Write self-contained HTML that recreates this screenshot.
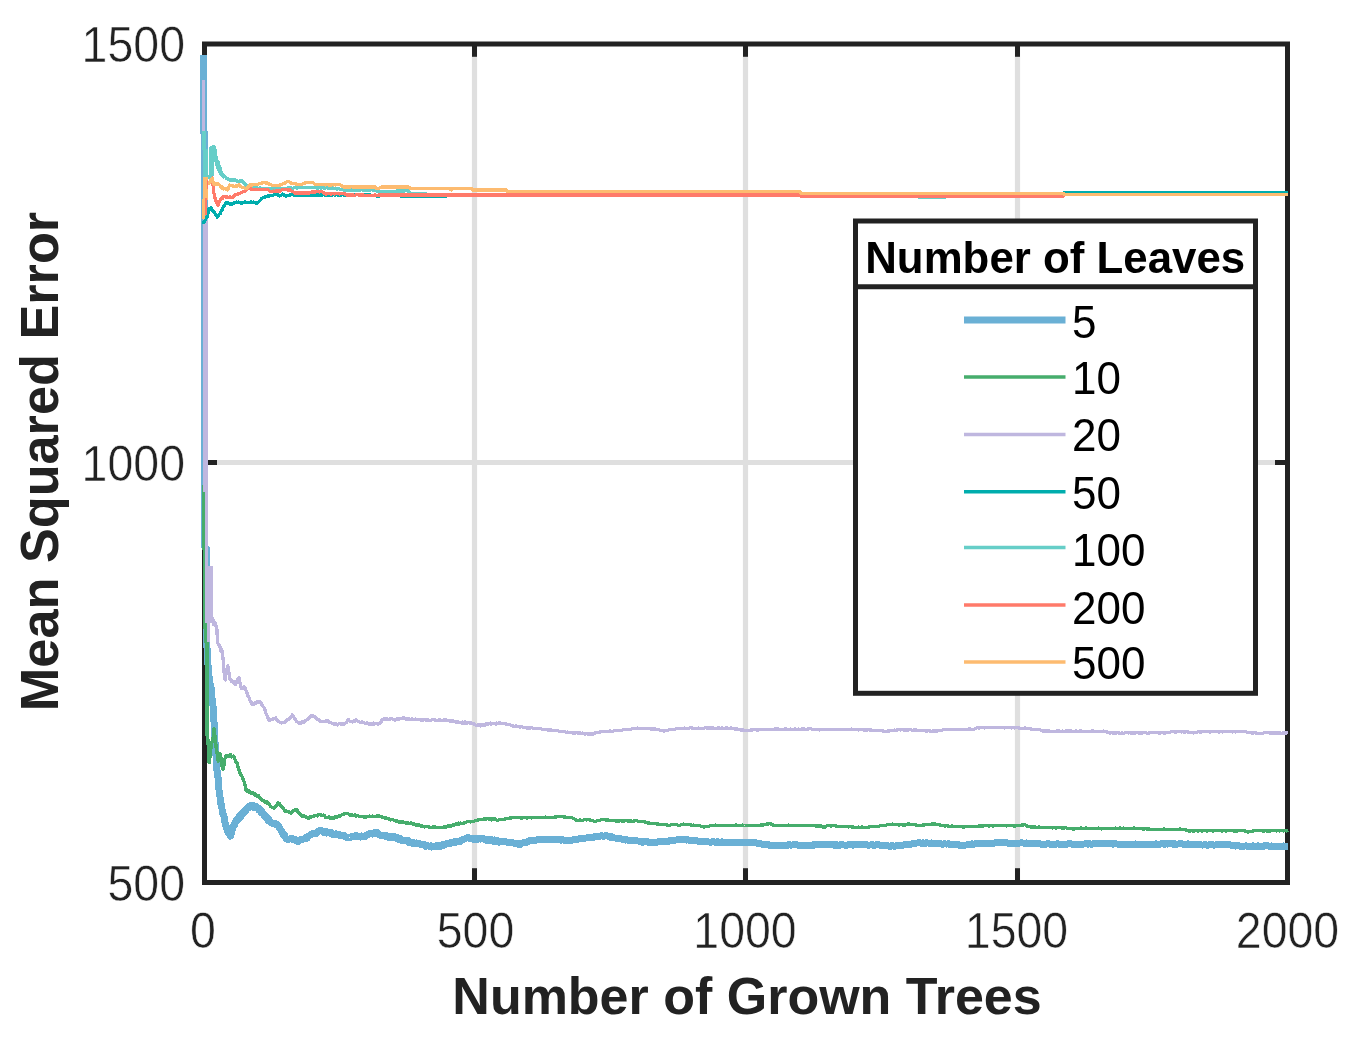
<!DOCTYPE html>
<html lang="en"><head><meta charset="utf-8"><title>Mean Squared Error vs Number of Grown Trees</title>
<style>html,body{margin:0;padding:0;background:#fff;overflow:hidden}svg{display:block}text{font-family:"Liberation Sans",sans-serif}</style></head><body>
<svg width="1363" height="1041" viewBox="0 0 1363 1041">
<rect width="1363" height="1041" fill="#fff"/>
<g stroke="#DFDFDF" stroke-width="5.2">
<line x1="474.5" y1="44" x2="474.5" y2="882.5"/>
<line x1="745.5" y1="44" x2="745.5" y2="882.5"/>
<line x1="1017.5" y1="44" x2="1017.5" y2="882.5"/>
<line x1="204.5" y1="462.5" x2="1287.5" y2="462.5"/>
</g>
<g stroke="#222222" stroke-width="5" fill="none">
<rect x="204.5" y="44" width="1083.0" height="838.5"/>
<line x1="474.5" y1="44" x2="474.5" y2="56.8"/>
<line x1="474.5" y1="882.5" x2="474.5" y2="868.2"/>
<line x1="745.5" y1="44" x2="745.5" y2="56.8"/>
<line x1="745.5" y1="882.5" x2="745.5" y2="868.2"/>
<line x1="1017.5" y1="44" x2="1017.5" y2="56.8"/>
<line x1="1017.5" y1="882.5" x2="1017.5" y2="868.2"/>
<line x1="204.5" y1="462.5" x2="217" y2="462.5"/>
<line x1="1287.5" y1="462.5" x2="1275" y2="462.5"/>
</g>
<g shape-rendering="crispEdges">
<path d="M203.4 55.0 L203.4 132.0 L204.9 133.0 L204.9 548.0 L206.5 549.0 L206.5 640.0 L207.5 655.0 L208.5 675.0 L209.1 677.0 L209.7 679.1 L210.3 687.1 L210.9 685.8 L211.5 694.6 L212.1 698.5 L212.7 701.4 L213.3 710.1 L213.9 719.0 L214.5 734.2 L215.1 743.2 L215.7 750.7 L216.3 760.1 L216.9 769.9 L217.5 772.7 L218.1 778.6 L218.7 786.3 L219.3 793.4 L219.9 796.5 L220.5 799.4 L221.1 806.1 L221.7 804.9 L222.3 812.6 L222.9 813.4 L223.5 815.1 L224.1 817.2 L224.7 820.3 L225.3 824.8 L225.9 824.1 L226.5 828.0 L227.1 830.4 L227.7 830.9 L228.3 833.2 L228.9 832.9 L229.5 834.5 L230.1 836.1 L230.7 835.9 L231.3 833.0 L231.9 830.5 L232.5 829.5 L233.1 827.1 L233.7 825.3 L234.3 825.7 L234.9 824.1 L235.5 821.4 L236.1 821.1 L236.7 819.7 L237.3 819.9 L237.9 819.0 L238.5 817.2 L239.1 818.7 L239.7 815.7 L240.3 816.1 L240.9 816.6 L241.5 814.4 L242.1 814.8 L242.7 812.8 L243.3 813.7 L243.9 813.2 L244.5 811.9 L245.1 811.8 L245.7 809.6 L246.3 809.8 L246.9 808.7 L247.5 807.9 L248.1 806.9 L248.7 807.7 L249.3 807.8 L249.9 806.6 L250.5 806.9 L251.1 805.4 L251.7 806.8 L252.3 806.6 L252.9 807.2 L253.5 806.7 L254.1 805.9 L254.7 806.5 L255.3 807.5 L255.9 806.4 L256.5 807.7 L257.1 807.4 L257.7 807.7 L258.3 807.9 L258.9 810.0 L259.5 809.2 L260.1 810.1 L260.7 811.0 L261.3 812.6 L261.9 811.5 L262.5 812.9 L263.1 813.7 L263.7 815.0 L264.3 815.4 L264.9 816.2 L265.5 815.8 L266.1 816.8 L266.7 817.5 L267.3 819.3 L267.9 820.2 L268.5 819.3 L269.1 820.1 L269.7 821.0 L270.3 821.7 L271.4 822.8 L272.5 823.4 L273.6 823.2 L274.7 823.1 L275.8 824.3 L276.9 824.6 L278.0 825.4 L279.1 827.3 L280.2 829.0 L281.3 830.8 L282.4 833.1 L283.5 834.8 L284.6 835.1 L285.7 838.1 L286.8 839.1 L287.9 839.4 L289.0 839.3 L290.1 838.6 L291.2 838.7 L292.3 838.2 L293.4 839.7 L294.5 839.3 L295.6 840.0 L296.7 841.0 L297.8 841.3 L298.9 841.1 L300.0 840.2 L301.1 839.6 L302.2 839.5 L303.3 839.0 L304.4 839.0 L305.5 837.8 L306.6 838.6 L307.7 837.4 L308.8 835.8 L309.9 835.3 L311.0 834.7 L312.1 834.0 L313.2 833.1 L314.3 834.0 L315.4 833.9 L316.5 832.5 L317.6 832.2 L318.7 831.1 L319.8 830.7 L320.9 830.8 L322.0 830.8 L323.1 832.1 L324.2 831.1 L325.3 831.1 L326.4 833.0 L327.5 832.5 L328.6 832.1 L329.7 833.0 L330.8 832.3 L331.9 833.4 L333.0 834.5 L334.1 834.5 L335.2 834.4 L336.3 833.8 L337.4 834.2 L338.5 834.1 L339.6 835.4 L340.7 835.2 L341.8 835.9 L342.9 835.3 L344.0 835.3 L345.1 836.6 L346.2 837.1 L347.3 837.1 L348.4 837.2 L349.5 837.5 L350.6 837.4 L351.7 836.4 L352.8 836.8 L353.9 836.5 L355.0 835.8 L356.1 835.7 L357.2 836.1 L358.3 836.0 L359.4 836.7 L360.5 837.1 L361.6 836.1 L362.7 836.9 L363.8 837.0 L364.9 836.8 L366.0 835.4 L367.1 834.8 L368.2 834.4 L369.3 833.9 L370.4 833.6 L371.5 833.9 L372.6 834.1 L373.7 833.6 L374.8 832.5 L375.9 833.1 L377.0 833.8 L378.1 833.0 L379.2 834.5 L380.3 835.4 L381.4 835.6 L382.5 836.0 L383.6 835.6 L384.7 835.3 L385.8 836.5 L386.9 835.9 L388.0 836.9 L389.1 837.4 L390.2 836.5 L391.3 836.7 L392.4 837.9 L393.5 837.7 L394.6 836.8 L395.7 837.1 L396.8 837.5 L397.9 839.2 L399.0 839.4 L400.1 838.6 L401.2 840.2 L402.3 840.8 L403.4 840.5 L404.5 840.2 L405.6 840.9 L406.7 840.4 L407.8 840.5 L408.9 842.4 L410.0 842.1 L411.1 842.2 L412.2 843.2 L413.3 842.6 L414.4 843.6 L415.5 843.8 L416.6 843.0 L417.7 843.3 L418.8 843.6 L419.9 843.8 L421.0 844.7 L422.1 844.4 L423.2 844.9 L424.3 844.7 L425.4 846.3 L426.5 845.4 L427.6 845.7 L428.7 846.0 L429.8 846.7 L430.9 845.9 L432.0 847.0 L433.1 846.3 L434.2 846.5 L435.3 846.6 L436.4 845.8 L437.5 846.6 L438.6 845.8 L439.7 845.2 L440.8 846.3 L441.9 844.8 L443.0 845.1 L444.1 845.2 L445.2 844.5 L446.3 843.8 L447.4 843.8 L448.5 843.6 L449.6 843.8 L450.7 842.3 L451.8 842.9 L452.9 842.1 L454.0 841.9 L455.1 842.6 L456.2 841.8 L457.3 841.7 L458.4 841.8 L459.5 841.9 L460.6 840.6 L461.7 840.4 L462.8 839.7 L463.9 839.2 L465.0 839.0 L466.1 838.1 L467.2 837.7 L468.3 837.6 L469.4 838.6 L470.5 838.4 L471.6 838.9 L472.7 839.2 L473.8 838.1 L474.9 838.8 L476.0 839.6 L477.1 839.5 L478.2 838.4 L479.3 838.4 L480.4 839.1 L481.5 838.5 L482.6 838.9 L483.7 838.7 L484.8 839.9 L485.9 840.2 L487.0 840.5 L488.1 839.2 L489.2 840.3 L490.3 840.3 L491.4 839.5 L492.5 841.0 L493.6 841.3 L494.7 840.1 L495.8 841.6 L496.9 840.7 L498.0 841.0 L499.1 842.1 L500.2 841.7 L501.3 841.2 L502.4 841.6 L503.5 841.8 L504.6 841.8 L505.7 841.8 L506.8 842.1 L507.9 842.6 L509.0 842.1 L510.1 842.7 L511.2 842.8 L512.3 842.5 L513.4 843.0 L514.5 843.4 L515.6 843.4 L516.7 843.1 L517.8 844.2 L518.9 844.1 L520.0 844.5 L521.7 843.1 L523.4 842.7 L525.1 842.0 L526.8 842.2 L528.5 841.2 L530.2 840.6 L531.9 840.6 L533.6 840.9 L535.3 840.5 L537.0 839.7 L538.7 839.3 L540.4 839.9 L542.1 839.6 L543.8 839.7 L545.5 839.1 L547.2 839.1 L548.9 839.7 L550.6 839.4 L552.3 839.1 L554.0 839.9 L555.7 839.6 L557.4 839.8 L559.1 839.2 L560.8 840.1 L562.5 839.5 L564.2 840.4 L565.9 840.1 L567.6 840.1 L569.3 840.5 L571.0 840.8 L572.7 839.9 L574.4 839.5 L576.1 839.7 L577.8 839.1 L579.5 838.8 L581.2 838.6 L582.9 838.2 L584.6 838.2 L586.3 838.0 L588.0 837.8 L589.7 838.0 L591.4 837.3 L593.1 837.3 L594.8 836.7 L596.5 836.7 L598.2 836.2 L599.9 836.2 L601.6 835.8 L603.3 836.3 L605.0 835.9 L606.7 835.6 L608.4 836.3 L610.1 837.2 L611.8 836.8 L613.5 837.9 L615.2 838.0 L616.9 838.3 L618.6 838.9 L620.3 838.7 L622.0 839.1 L623.7 839.6 L625.4 840.1 L627.1 839.8 L628.8 840.5 L630.5 840.6 L632.2 840.8 L633.9 840.8 L635.6 840.9 L637.3 840.9 L639.0 841.2 L640.7 841.3 L642.4 842.2 L644.1 841.8 L645.8 841.8 L647.5 841.8 L649.2 842.6 L650.9 842.7 L652.6 842.6 L654.3 842.3 L656.0 842.1 L657.7 842.0 L659.4 841.9 L661.1 841.4 L662.8 841.5 L664.5 841.2 L666.2 841.7 L667.9 841.5 L669.6 840.8 L671.3 840.4 L673.0 840.9 L674.7 840.1 L676.4 840.0 L678.1 839.4 L679.8 839.7 L681.5 839.6 L683.2 839.6 L684.9 839.5 L686.6 840.1 L688.3 839.8 L690.0 840.3 L691.7 840.4 L693.4 840.9 L695.1 840.8 L696.8 840.8 L698.5 841.2 L700.2 841.2 L701.9 841.6 L703.6 841.6 L705.3 841.9 L707.0 841.9 L708.7 842.0 L710.4 842.2 L712.1 841.8 L713.8 841.8 L715.5 842.5 L717.2 841.7 L718.9 842.4 L720.6 842.4 L722.3 841.8 L724.0 842.7 L725.7 842.8 L727.4 842.6 L729.1 842.7 L730.8 842.8 L732.5 842.1 L734.2 842.5 L735.9 842.5 L737.6 842.8 L739.3 842.8 L741.0 842.8 L742.7 842.6 L744.4 842.9 L746.1 842.7 L747.8 842.9 L749.5 842.5 L751.2 842.4 L752.9 842.6 L754.6 842.9 L756.3 842.8 L758.0 843.7 L759.7 843.6 L761.4 844.0 L763.1 844.2 L764.8 844.5 L766.5 844.6 L768.2 844.4 L769.9 845.4 L771.6 845.6 L773.3 845.5 L775.0 845.5 L776.7 845.7 L778.4 845.1 L780.1 845.7 L781.8 845.3 L783.5 845.1 L785.2 845.2 L786.9 845.5 L788.6 844.7 L790.3 845.0 L792.0 845.0 L793.7 844.6 L795.4 844.7 L797.1 844.9 L798.8 845.3 L800.5 845.6 L802.2 845.6 L803.9 845.8 L805.6 845.3 L807.3 845.2 L809.0 845.2 L810.7 845.5 L812.4 844.9 L814.1 845.1 L815.8 844.4 L817.5 844.3 L819.2 844.3 L820.9 844.7 L822.6 844.8 L824.3 844.8 L826.0 844.5 L827.7 844.8 L829.4 844.8 L831.1 844.8 L832.8 844.5 L834.5 845.4 L836.2 844.7 L837.9 845.4 L839.6 845.3 L841.3 844.4 L843.0 844.8 L844.7 845.1 L846.4 845.2 L848.1 844.7 L849.8 844.5 L851.5 844.4 L853.2 845.1 L854.9 844.3 L856.6 844.6 L858.3 844.2 L860.0 844.5 L861.7 845.0 L863.4 844.2 L865.1 845.0 L866.8 844.7 L868.5 845.2 L870.2 845.0 L871.9 844.6 L873.6 845.3 L875.3 845.0 L877.0 844.7 L878.7 844.8 L880.4 845.4 L882.1 845.5 L883.8 845.5 L885.5 845.5 L887.2 845.9 L888.9 846.0 L890.6 846.5 L892.3 845.5 L894.0 846.1 L895.7 846.0 L897.4 845.1 L899.1 845.8 L900.8 845.4 L902.5 845.4 L904.2 844.6 L905.9 844.5 L907.6 844.4 L909.3 844.8 L911.0 844.2 L912.7 843.7 L914.4 843.6 L916.1 843.2 L917.8 842.8 L919.5 842.7 L921.2 843.4 L922.9 842.9 L924.6 843.6 L926.3 842.9 L928.0 843.0 L929.7 843.3 L931.4 843.0 L933.1 843.3 L934.8 843.9 L936.5 843.9 L938.2 843.9 L939.9 843.7 L941.6 844.1 L943.3 844.1 L945.0 843.8 L946.7 844.1 L948.4 843.6 L950.1 844.5 L951.8 844.3 L953.5 844.8 L955.2 844.8 L956.9 844.6 L958.6 844.6 L960.3 845.6 L962.0 845.0 L963.7 845.5 L965.4 845.1 L967.1 844.8 L968.8 845.0 L970.5 844.9 L972.2 843.9 L973.9 844.1 L975.6 843.5 L977.3 843.7 L979.0 843.5 L980.7 843.2 L982.4 843.2 L984.1 843.2 L985.8 843.8 L987.5 843.4 L989.2 843.0 L990.9 843.7 L992.6 843.7 L994.3 843.1 L996.0 842.8 L997.7 842.8 L999.4 842.6 L1001.1 842.9 L1002.8 842.6 L1004.5 842.8 L1006.2 842.8 L1007.9 843.1 L1009.6 843.5 L1011.3 843.4 L1013.0 843.0 L1014.7 843.1 L1016.4 843.2 L1018.1 843.1 L1019.8 843.0 L1021.5 842.8 L1023.2 843.0 L1024.9 843.7 L1026.6 842.9 L1028.3 843.4 L1030.0 843.6 L1031.7 843.9 L1033.4 843.3 L1035.1 843.4 L1036.8 843.5 L1038.5 843.7 L1040.2 843.8 L1041.9 844.4 L1043.6 844.3 L1045.3 844.4 L1047.0 843.7 L1048.7 843.7 L1050.4 844.5 L1052.1 844.6 L1053.8 844.2 L1055.5 844.3 L1057.2 843.8 L1058.9 844.1 L1060.6 844.7 L1062.3 844.6 L1064.0 844.6 L1065.7 844.7 L1067.4 844.0 L1069.1 843.9 L1070.8 843.9 L1072.5 844.3 L1074.2 844.4 L1075.9 844.7 L1077.6 844.4 L1079.3 844.3 L1081.0 844.3 L1082.7 844.0 L1084.4 844.0 L1086.1 843.5 L1087.8 844.1 L1089.5 843.6 L1091.2 844.2 L1092.9 843.9 L1094.6 843.5 L1096.3 843.2 L1098.0 843.3 L1099.7 843.6 L1101.4 843.8 L1103.1 843.2 L1104.8 843.3 L1106.5 843.8 L1108.2 843.9 L1109.9 843.8 L1111.6 843.7 L1113.3 844.1 L1115.0 843.6 L1116.7 844.0 L1118.4 844.2 L1120.1 844.8 L1121.8 844.5 L1123.5 844.8 L1125.2 844.5 L1126.9 844.2 L1128.6 844.2 L1130.3 845.0 L1132.0 844.7 L1133.7 844.3 L1135.4 844.0 L1137.1 844.5 L1138.8 844.7 L1140.5 844.4 L1142.2 844.3 L1143.9 844.7 L1145.6 844.9 L1147.3 844.2 L1149.0 844.0 L1150.7 844.3 L1152.4 844.3 L1154.1 844.5 L1155.8 843.9 L1157.5 844.4 L1159.2 844.3 L1160.9 844.0 L1162.6 843.6 L1164.3 844.3 L1166.0 843.6 L1167.7 844.1 L1169.4 843.6 L1171.1 843.6 L1172.8 844.2 L1174.5 843.8 L1176.2 844.4 L1177.9 844.0 L1179.6 843.8 L1181.3 843.8 L1183.0 844.1 L1184.7 844.4 L1186.4 844.7 L1188.1 843.9 L1189.8 844.2 L1191.5 844.1 L1193.2 844.9 L1194.9 844.1 L1196.6 844.0 L1198.3 844.1 L1200.0 844.4 L1201.7 845.0 L1203.4 845.0 L1205.1 844.8 L1206.8 845.1 L1208.5 845.1 L1210.2 844.5 L1211.9 844.4 L1213.6 845.2 L1215.3 845.0 L1217.0 844.3 L1218.7 845.0 L1220.4 844.7 L1222.1 844.7 L1223.8 844.7 L1225.5 844.6 L1227.2 844.5 L1228.9 844.8 L1230.6 844.9 L1232.3 845.7 L1234.0 845.1 L1235.7 846.1 L1237.4 845.6 L1239.1 845.9 L1240.8 846.6 L1242.5 846.6 L1244.2 846.2 L1245.9 845.8 L1247.6 846.2 L1249.3 846.1 L1251.0 846.7 L1252.7 845.9 L1254.4 846.1 L1256.1 846.6 L1257.8 845.8 L1259.5 846.2 L1261.2 846.6 L1262.9 846.5 L1264.6 845.8 L1266.3 845.8 L1268.0 845.8 L1269.7 846.7 L1271.4 846.0 L1273.1 846.5 L1274.8 846.6 L1276.5 846.1 L1278.2 846.0 L1279.9 846.7 L1281.6 846.4 L1283.3 846.0 L1285.0 846.5 L1286.7 846.1 L1288.0 846.0" fill="none" stroke="#6AB0D5" stroke-width="7.0" stroke-linejoin="round"/>
<path d="M203.3 485.0 L203.3 548.5 L204.9 549.5 L204.9 628.0 L206.0 630.0 L206.0 642.0 L207.6 644.0 L207.4 735.0 L208.0 741.0 L208.6 756.4 L209.2 762.9 L209.8 757.5 L210.4 756.3 L211.0 746.9 L211.6 744.1 L212.2 741.4 L212.8 740.1 L213.4 735.8 L214.0 728.4 L214.6 732.4 L215.2 738.2 L215.8 743.4 L216.4 750.4 L217.0 751.4 L217.6 759.2 L218.2 761.3 L218.8 759.3 L219.4 756.6 L220.0 753.5 L220.6 755.9 L221.2 759.5 L221.8 763.2 L222.4 768.5 L223.0 769.4 L223.6 766.3 L224.2 764.7 L224.8 759.3 L225.4 757.0 L226.0 756.1 L226.6 757.0 L227.2 755.5 L227.8 756.8 L228.4 756.3 L229.0 756.8 L229.6 754.8 L230.2 754.5 L230.8 754.8 L231.4 756.1 L232.0 756.9 L232.6 756.4 L233.2 756.0 L233.8 756.7 L234.4 758.1 L235.0 759.4 L235.6 760.8 L236.2 762.3 L236.8 763.0 L237.4 763.4 L238.0 767.1 L238.6 767.9 L239.2 770.5 L239.8 772.0 L240.4 774.3 L241.0 774.3 L241.6 775.7 L242.2 776.9 L242.8 777.9 L243.4 780.6 L244.0 781.2 L244.6 783.3 L245.2 786.2 L245.8 790.1 L246.4 790.2 L247.0 790.0 L247.6 791.4 L248.2 791.4 L248.8 792.3 L249.4 791.0 L250.0 792.0 L250.6 792.9 L251.2 793.2 L251.8 793.6 L252.4 792.4 L253.0 793.1 L253.6 793.1 L254.2 793.5 L254.8 795.1 L255.4 794.7 L256.0 795.6 L256.6 794.9 L257.2 796.0 L257.8 795.6 L258.4 795.6 L259.0 797.1 L259.6 798.1 L260.2 797.5 L260.8 799.0 L261.4 799.8 L262.0 799.9 L262.6 800.8 L263.2 800.7 L263.8 801.0 L264.4 801.4 L265.0 802.2 L265.6 802.5 L266.2 802.0 L266.8 802.0 L267.4 802.7 L268.0 803.8 L268.6 803.6 L269.2 804.4 L269.8 804.8 L270.4 806.3 L271.5 807.0 L272.6 807.4 L273.7 808.3 L274.8 807.4 L275.9 806.3 L277.0 805.1 L278.1 803.0 L279.2 803.2 L280.3 805.4 L281.4 806.3 L282.5 807.4 L283.6 808.9 L284.7 811.3 L285.8 810.9 L286.9 811.6 L288.0 811.5 L289.1 811.9 L290.2 812.8 L291.3 813.0 L292.4 811.5 L293.5 810.6 L294.6 810.7 L295.7 809.3 L296.8 809.7 L297.9 812.2 L299.0 812.7 L300.1 814.5 L301.2 815.0 L302.3 816.1 L303.4 816.1 L304.5 816.1 L305.6 816.4 L306.7 817.7 L307.8 818.1 L308.9 818.2 L310.0 816.8 L311.1 817.2 L312.2 816.6 L313.3 816.5 L314.4 815.7 L315.5 815.6 L316.6 815.6 L317.7 815.9 L318.8 814.5 L319.9 814.8 L321.0 814.9 L322.1 815.7 L323.2 815.1 L324.3 815.5 L325.4 817.2 L326.5 817.7 L327.6 817.5 L328.7 816.9 L329.8 818.1 L330.9 817.3 L332.0 818.1 L333.1 817.7 L334.2 818.0 L335.3 816.9 L336.4 817.4 L337.5 816.2 L338.6 816.0 L339.7 816.2 L340.8 815.8 L341.9 814.5 L343.0 814.1 L344.1 813.9 L345.2 813.8 L346.3 813.8 L347.4 813.6 L348.5 814.0 L349.6 814.9 L350.7 815.3 L351.8 814.3 L352.9 815.2 L354.0 815.7 L355.1 814.9 L356.2 816.2 L357.3 815.3 L358.4 816.1 L359.5 816.2 L360.6 816.5 L361.7 816.2 L362.8 816.6 L363.9 817.0 L365.0 816.9 L366.1 817.1 L367.2 816.7 L368.3 816.6 L369.4 816.0 L370.5 816.7 L371.6 816.5 L372.7 816.0 L373.8 816.7 L374.9 816.6 L376.0 816.1 L377.1 815.6 L378.2 816.2 L379.3 816.0 L380.4 816.3 L381.5 817.0 L382.6 816.9 L383.7 817.7 L384.8 818.1 L385.9 817.7 L387.0 818.9 L388.1 818.4 L389.2 819.6 L390.3 819.9 L391.4 819.8 L392.5 819.4 L393.6 820.2 L394.7 820.3 L395.8 821.3 L396.9 820.4 L398.0 821.6 L399.1 822.0 L400.2 821.9 L401.3 822.2 L402.4 821.6 L403.5 822.8 L404.6 822.4 L405.7 823.2 L406.8 823.3 L407.9 822.5 L409.0 823.5 L410.1 823.9 L411.2 822.9 L412.3 823.5 L413.4 824.3 L414.5 823.8 L415.6 825.1 L416.7 824.5 L417.8 825.6 L418.9 824.9 L420.0 825.7 L421.1 826.6 L422.2 825.9 L423.3 826.2 L424.4 826.9 L425.5 826.8 L426.6 826.4 L427.7 826.6 L428.8 826.6 L429.9 827.8 L431.0 827.4 L432.1 827.8 L433.2 826.8 L434.3 827.7 L435.4 826.8 L436.5 827.4 L437.6 827.6 L438.7 827.2 L439.8 827.9 L440.9 827.5 L442.0 827.6 L443.1 827.9 L444.2 826.5 L445.3 827.5 L446.4 826.7 L447.5 826.1 L448.6 826.4 L449.7 825.4 L450.8 826.1 L451.9 825.3 L453.0 824.7 L454.1 825.1 L455.2 824.4 L456.3 823.8 L457.4 824.4 L458.5 823.2 L459.6 824.0 L460.7 823.0 L461.8 823.3 L462.9 823.6 L464.0 822.9 L465.1 822.8 L466.2 822.1 L467.3 821.5 L468.4 821.4 L469.5 821.4 L470.6 821.9 L471.7 821.4 L472.8 821.4 L473.9 821.7 L475.0 820.5 L476.1 820.4 L477.2 820.8 L478.3 819.7 L479.4 819.5 L480.5 819.8 L481.6 819.3 L482.7 819.4 L483.8 819.0 L484.9 819.3 L486.0 819.1 L487.1 818.4 L488.2 819.0 L489.3 818.9 L490.4 818.5 L491.5 819.8 L492.6 818.9 L493.7 818.9 L494.8 818.9 L495.9 819.8 L497.0 820.2 L498.1 820.2 L499.2 819.8 L500.3 819.8 L501.4 819.3 L502.5 819.6 L503.6 819.3 L504.7 818.9 L505.8 819.0 L506.9 818.6 L508.0 818.7 L509.1 818.4 L510.2 817.8 L511.3 818.1 L512.4 817.2 L513.5 817.6 L514.6 817.5 L515.7 817.4 L516.8 817.3 L517.9 817.9 L519.0 817.4 L520.1 817.8 L521.8 818.2 L523.5 817.7 L525.2 817.8 L526.9 818.0 L528.6 817.8 L530.3 817.8 L532.0 817.9 L533.7 817.3 L535.4 817.4 L537.1 817.3 L538.8 817.2 L540.5 817.8 L542.2 817.7 L543.9 817.7 L545.6 817.1 L547.3 817.8 L549.0 817.7 L550.7 817.4 L552.4 817.6 L554.1 817.2 L555.8 817.0 L557.5 816.8 L559.2 816.8 L560.9 816.6 L562.6 816.7 L564.3 817.0 L566.0 817.2 L567.7 817.6 L569.4 817.7 L571.1 817.6 L572.8 818.2 L574.5 819.0 L576.2 820.1 L577.9 820.5 L579.6 820.1 L581.3 820.2 L583.0 820.3 L584.7 819.6 L586.4 819.9 L588.1 819.3 L589.8 819.9 L591.5 820.2 L593.2 821.0 L594.9 821.6 L596.6 821.0 L598.3 820.2 L600.0 820.2 L601.7 819.3 L603.4 819.2 L605.1 819.9 L606.8 819.9 L608.5 820.1 L610.2 820.3 L611.9 820.7 L613.6 820.6 L615.3 821.0 L617.0 820.9 L618.7 821.1 L620.4 820.8 L622.1 821.1 L623.8 821.0 L625.5 820.8 L627.2 820.8 L628.9 821.2 L630.6 820.8 L632.3 821.5 L634.0 820.9 L635.7 820.8 L637.4 820.9 L639.1 821.8 L640.8 821.6 L642.5 821.7 L644.2 821.9 L645.9 822.1 L647.6 822.9 L649.3 823.1 L651.0 823.3 L652.7 823.6 L654.4 823.3 L656.1 823.9 L657.8 823.9 L659.5 824.4 L661.2 824.5 L662.9 824.7 L664.6 824.2 L666.3 825.0 L668.0 825.2 L669.7 825.3 L671.4 824.7 L673.1 824.8 L674.8 824.7 L676.5 824.6 L678.2 825.3 L679.9 825.2 L681.6 824.3 L683.3 824.1 L685.0 824.2 L686.7 824.2 L688.4 824.3 L690.1 824.5 L691.8 825.3 L693.5 825.1 L695.2 825.4 L696.9 825.7 L698.6 825.6 L700.3 826.0 L702.0 826.3 L703.7 826.9 L705.4 826.8 L707.1 826.4 L708.8 826.3 L710.5 825.5 L712.2 825.8 L713.9 825.6 L715.6 825.1 L717.3 825.4 L719.0 825.5 L720.7 825.7 L722.4 825.4 L724.1 825.7 L725.8 825.5 L727.5 825.3 L729.2 825.8 L730.9 825.2 L732.6 825.7 L734.3 825.2 L736.0 825.1 L737.7 825.3 L739.4 825.7 L741.1 825.9 L742.8 825.1 L744.5 825.5 L746.2 825.5 L747.9 825.7 L749.6 825.3 L751.3 825.5 L753.0 825.4 L754.7 825.8 L756.4 825.3 L758.1 825.8 L759.8 825.3 L761.5 825.0 L763.2 825.1 L764.9 824.6 L766.6 824.0 L768.3 824.2 L770.0 823.4 L771.7 824.6 L773.4 825.1 L775.1 825.7 L776.8 825.6 L778.5 825.4 L780.2 825.4 L781.9 825.4 L783.6 825.8 L785.3 825.2 L787.0 825.8 L788.7 825.1 L790.4 825.3 L792.1 825.3 L793.8 825.8 L795.5 825.5 L797.2 825.4 L798.9 825.8 L800.6 825.4 L802.3 825.5 L804.0 825.6 L805.7 825.8 L807.4 825.8 L809.1 825.8 L810.8 825.5 L812.5 825.5 L814.2 825.4 L815.9 826.0 L817.6 825.9 L819.3 825.9 L821.0 826.0 L822.7 827.0 L824.4 827.4 L826.1 826.3 L827.8 825.2 L829.5 825.6 L831.2 826.1 L832.9 825.7 L834.6 825.8 L836.3 826.0 L838.0 826.4 L839.7 826.6 L841.4 826.2 L843.1 826.3 L844.8 826.5 L846.5 826.7 L848.2 826.9 L849.9 826.7 L851.6 826.9 L853.3 826.9 L855.0 827.6 L856.7 827.5 L858.4 827.1 L860.1 827.8 L861.8 827.1 L863.5 827.2 L865.2 827.5 L866.9 827.3 L868.6 827.1 L870.3 826.8 L872.0 826.5 L873.7 826.7 L875.4 826.2 L877.1 826.2 L878.8 826.2 L880.5 825.8 L882.2 825.7 L883.9 825.7 L885.6 825.3 L887.3 824.8 L889.0 824.6 L890.7 824.3 L892.4 824.1 L894.1 824.5 L895.8 824.5 L897.5 824.8 L899.2 825.0 L900.9 824.7 L902.6 824.9 L904.3 825.2 L906.0 824.7 L907.7 824.1 L909.4 824.1 L911.1 824.2 L912.8 824.5 L914.5 824.7 L916.2 825.1 L917.9 825.3 L919.6 825.5 L921.3 825.3 L923.0 824.9 L924.7 824.9 L926.4 824.3 L928.1 824.3 L929.8 824.3 L931.5 824.1 L933.2 824.0 L934.9 823.9 L936.6 824.3 L938.3 824.6 L940.0 825.0 L941.7 825.2 L943.4 825.6 L945.1 826.1 L946.8 825.6 L948.5 826.1 L950.2 826.3 L951.9 826.1 L953.6 826.2 L955.3 826.7 L957.0 826.1 L958.7 826.6 L960.4 826.4 L962.1 826.9 L963.8 827.0 L965.5 826.6 L967.2 826.2 L968.9 826.5 L970.6 826.4 L972.3 826.5 L974.0 826.2 L975.7 826.3 L977.4 826.3 L979.1 826.0 L980.8 825.9 L982.5 826.2 L984.2 825.6 L985.9 825.9 L987.6 825.7 L989.3 826.0 L991.0 825.5 L992.7 826.1 L994.4 825.6 L996.1 825.4 L997.8 825.6 L999.5 825.7 L1001.2 825.4 L1002.9 825.7 L1004.6 825.7 L1006.3 825.9 L1008.0 825.6 L1009.7 825.6 L1011.4 825.5 L1013.1 825.9 L1014.8 826.0 L1016.5 825.5 L1018.2 825.2 L1019.9 825.5 L1021.6 825.1 L1023.3 824.9 L1025.0 824.7 L1026.7 825.9 L1028.4 826.6 L1030.1 826.9 L1031.8 826.9 L1033.5 827.0 L1035.2 826.8 L1036.9 827.4 L1038.6 827.0 L1040.3 827.3 L1042.0 827.5 L1043.7 827.6 L1045.4 827.4 L1047.1 827.3 L1048.8 827.6 L1050.5 827.3 L1052.2 827.9 L1053.9 827.6 L1055.6 828.1 L1057.3 827.7 L1059.0 827.8 L1060.7 827.8 L1062.4 828.0 L1064.1 827.9 L1065.8 827.8 L1067.5 828.4 L1069.2 828.3 L1070.9 828.6 L1072.6 829.0 L1074.3 828.9 L1076.0 828.4 L1077.7 828.2 L1079.4 828.2 L1081.1 828.0 L1082.8 828.5 L1084.5 828.4 L1086.2 827.9 L1087.9 828.5 L1089.6 828.6 L1091.3 828.6 L1093.0 828.1 L1094.7 828.7 L1096.4 828.6 L1098.1 828.1 L1099.8 828.2 L1101.5 828.9 L1103.2 828.8 L1104.9 828.5 L1106.6 828.4 L1108.3 828.5 L1110.0 828.4 L1111.7 828.8 L1113.4 828.4 L1115.1 828.1 L1116.8 828.6 L1118.5 828.4 L1120.2 827.9 L1121.9 828.4 L1123.6 828.1 L1125.3 828.3 L1127.0 828.2 L1128.7 828.4 L1130.4 828.3 L1132.1 828.4 L1133.8 827.9 L1135.5 828.4 L1137.2 828.3 L1138.9 828.5 L1140.6 828.5 L1142.3 829.0 L1144.0 828.9 L1145.7 828.8 L1147.4 829.0 L1149.1 829.1 L1150.8 829.5 L1152.5 829.4 L1154.2 829.8 L1155.9 829.7 L1157.6 829.8 L1159.3 829.6 L1161.0 829.5 L1162.7 829.6 L1164.4 828.9 L1166.1 829.5 L1167.8 829.2 L1169.5 829.3 L1171.2 829.4 L1172.9 829.5 L1174.6 829.2 L1176.3 829.2 L1178.0 829.6 L1179.7 828.9 L1181.4 829.4 L1183.1 829.4 L1184.8 829.4 L1186.5 830.4 L1188.2 830.9 L1189.9 831.1 L1191.6 830.6 L1193.3 831.1 L1195.0 830.8 L1196.7 830.7 L1198.4 831.1 L1200.1 830.4 L1201.8 830.9 L1203.5 830.8 L1205.2 830.6 L1206.9 831.0 L1208.6 830.6 L1210.3 830.7 L1212.0 830.8 L1213.7 831.0 L1215.4 830.5 L1217.1 830.7 L1218.8 830.7 L1220.5 830.8 L1222.2 831.0 L1223.9 830.6 L1225.6 831.0 L1227.3 830.7 L1229.0 830.8 L1230.7 830.6 L1232.4 830.8 L1234.1 831.1 L1235.8 830.9 L1237.5 831.0 L1239.2 830.6 L1240.9 830.6 L1242.6 830.6 L1244.3 830.8 L1246.0 831.1 L1247.7 832.1 L1249.4 831.3 L1251.1 831.4 L1252.8 831.1 L1254.5 830.8 L1256.2 830.4 L1257.9 830.6 L1259.6 830.4 L1261.3 830.5 L1263.0 831.1 L1264.7 830.8 L1266.4 830.9 L1268.1 831.0 L1269.8 831.1 L1271.5 830.8 L1273.2 830.8 L1274.9 830.8 L1276.6 830.9 L1278.3 830.8 L1280.0 830.9 L1281.7 830.5 L1283.4 830.9 L1285.1 830.7 L1286.8 831.0 L1288.0 830.4" fill="none" stroke="#46AD6C" stroke-width="3.3" stroke-linejoin="round"/>
<path d="M206.9 644 L206.9 736" fill="none" stroke="#46AD6C" stroke-width="4.8"/>
<path d="M212.1 617.9 L212.7 617.9 L213.3 623.1 L213.9 624.7 L214.5 623.9 L215.1 622.9 L215.7 625.9 L216.3 626.3 L216.9 629.3 L217.5 643.0 L218.1 643.9 L218.7 645.1 L219.3 645.4 L219.9 646.6 L220.5 648.7 L221.1 651.2 L221.7 648.9 L222.3 652.3 L222.9 657.1 L223.5 663.6 L224.1 672.1 L224.7 677.3 L225.3 679.9 L225.9 675.0 L226.5 670.4 L227.1 668.4 L227.7 665.9 L228.3 667.8 L228.9 672.7 L229.5 675.9 L230.1 679.8 L230.7 679.4 L231.3 681.5 L231.9 680.7 L232.5 681.0 L233.1 681.2 L233.7 681.7 L234.3 683.9 L234.9 683.0 L235.5 684.4 L236.1 681.3 L236.7 682.3 L237.3 679.7 L237.9 678.5 L238.5 679.3 L239.1 677.9 L239.7 682.0 L240.3 683.8 L240.9 686.5 L241.5 688.5 L242.1 688.2 L242.7 688.3 L243.3 687.9 L243.9 686.4 L244.5 687.4 L245.1 687.7 L245.7 689.0 L246.3 691.7 L246.9 692.2 L247.5 695.4 L248.1 696.6 L248.7 696.6 L249.3 697.9 L249.9 700.3 L250.5 701.9 L251.1 701.8 L251.7 703.5 L252.3 704.8 L252.9 703.5 L253.5 704.5 L254.1 703.6 L254.7 702.7 L255.3 703.0 L255.9 703.1 L256.5 702.6 L257.1 702.8 L257.7 701.6 L258.3 702.5 L258.9 701.5 L259.5 701.7 L260.1 702.5 L260.7 702.9 L261.3 703.6 L261.9 705.0 L262.5 706.0 L263.1 706.5 L263.7 707.1 L264.3 708.2 L264.9 709.3 L265.5 712.3 L266.1 713.4 L266.7 715.1 L267.3 715.8 L267.9 717.6 L268.5 719.3 L269.1 720.3 L269.7 720.7 L270.3 719.9 L271.4 719.6 L272.5 719.7 L273.6 718.4 L274.7 718.3 L275.8 718.0 L276.9 719.7 L278.0 720.9 L279.1 721.5 L280.2 722.4 L281.3 722.9 L282.4 722.6 L283.5 722.3 L284.6 722.1 L285.7 721.7 L286.8 719.8 L287.9 719.9 L289.0 718.8 L290.1 717.8 L291.2 716.4 L292.3 714.9 L293.4 716.8 L294.5 718.2 L295.6 719.6 L296.7 721.5 L297.8 722.2 L298.9 723.1 L300.0 723.3 L301.1 723.2 L302.2 721.9 L303.3 722.3 L304.4 722.1 L305.5 720.5 L306.6 720.1 L307.7 719.3 L308.8 718.0 L309.9 716.8 L311.0 715.9 L312.1 715.7 L313.2 716.0 L314.3 716.4 L315.4 716.8 L316.5 718.8 L317.6 719.6 L318.7 719.8 L319.8 721.2 L320.9 721.8 L322.0 721.8 L323.1 721.3 L324.2 721.2 L325.3 721.4 L326.4 720.8 L327.5 720.8 L328.6 721.3 L329.7 722.5 L330.8 722.5 L331.9 723.2 L333.0 723.5 L334.1 724.1 L335.2 724.0 L336.3 723.8 L337.4 725.0 L338.5 724.1 L339.6 723.6 L340.7 724.3 L341.8 724.4 L342.9 723.4 L344.0 724.0 L345.1 723.4 L346.2 722.6 L347.3 720.8 L348.4 719.7 L349.5 721.1 L350.6 721.5 L351.7 721.6 L352.8 721.9 L353.9 720.9 L355.0 721.1 L356.1 720.0 L357.2 721.0 L358.3 721.3 L359.4 721.8 L360.5 722.5 L361.6 721.9 L362.7 722.1 L363.8 722.8 L364.9 723.3 L366.0 723.2 L367.1 723.1 L368.2 723.8 L369.3 724.3 L370.4 723.7 L371.5 724.4 L372.6 724.3 L373.7 723.1 L374.8 723.9 L375.9 723.6 L377.0 723.2 L378.1 724.4 L379.2 723.4 L380.3 723.2 L381.4 721.1 L382.5 719.4 L383.6 719.1 L384.7 718.7 L385.8 718.9 L386.9 718.5 L388.0 719.7 L389.1 719.8 L390.2 718.8 L391.3 718.6 L392.4 719.0 L393.5 719.2 L394.6 720.0 L395.7 719.9 L396.8 719.6 L397.9 718.3 L399.0 719.1 L400.1 718.8 L401.2 718.5 L402.3 718.7 L403.4 717.5 L404.5 717.8 L405.6 718.8 L406.7 719.2 L407.8 719.0 L408.9 718.7 L410.0 719.3 L411.1 719.7 L412.2 718.9 L413.3 719.3 L414.4 719.2 L415.5 719.1 L416.6 719.6 L417.7 719.2 L418.8 719.4 L419.9 719.3 L421.0 720.1 L422.1 719.2 L423.2 720.2 L424.3 719.5 L425.4 719.4 L426.5 720.6 L427.6 719.6 L428.7 720.6 L429.8 720.5 L430.9 720.5 L432.0 719.5 L433.1 719.9 L434.2 719.4 L435.3 720.6 L436.4 720.5 L437.5 720.2 L438.6 720.0 L439.7 719.9 L440.8 720.6 L441.9 720.2 L443.0 720.5 L444.1 719.8 L445.2 720.0 L446.3 719.8 L447.4 720.8 L448.5 720.7 L449.6 720.3 L450.7 721.5 L451.8 720.9 L452.9 721.2 L454.0 721.1 L455.1 721.4 L456.2 722.4 L457.3 721.8 L458.4 721.8 L459.5 722.4 L460.6 722.3 L461.7 723.1 L462.8 722.1 L463.9 723.4 L465.0 722.1 L466.1 723.4 L467.2 723.1 L468.3 722.5 L469.4 722.9 L470.5 722.8 L471.6 723.1 L472.7 723.3 L473.8 723.8 L474.9 724.9 L476.0 725.2 L477.1 725.4 L478.2 724.5 L479.3 725.0 L480.4 726.0 L481.5 724.6 L482.6 725.4 L483.7 724.6 L484.8 725.3 L485.9 723.8 L487.0 724.7 L488.1 723.9 L489.2 723.4 L490.3 723.0 L491.4 724.2 L492.5 723.7 L493.6 723.2 L494.7 723.5 L495.8 724.1 L496.9 723.1 L498.0 723.5 L499.1 722.9 L500.2 723.1 L501.3 723.5 L502.4 723.4 L503.5 723.3 L504.6 723.4 L505.7 723.7 L506.8 724.4 L507.9 724.5 L509.0 724.6 L510.1 724.8 L511.2 725.4 L512.3 725.8 L513.4 726.1 L514.5 726.2 L515.6 726.1 L516.7 726.1 L517.8 726.8 L518.9 726.7 L520.0 727.0 L521.7 726.7 L523.4 727.5 L525.1 727.4 L526.8 727.9 L528.5 728.0 L530.2 727.9 L531.9 727.6 L533.6 728.5 L535.3 728.3 L537.0 728.7 L538.7 728.4 L540.4 728.6 L542.1 729.4 L543.8 729.3 L545.5 729.4 L547.2 729.9 L548.9 730.2 L550.6 729.9 L552.3 730.5 L554.0 730.6 L555.7 730.8 L557.4 730.7 L559.1 731.3 L560.8 731.6 L562.5 731.8 L564.2 731.6 L565.9 732.2 L567.6 732.1 L569.3 732.6 L571.0 732.2 L572.7 732.9 L574.4 733.1 L576.1 732.8 L577.8 732.9 L579.5 733.0 L581.2 733.2 L582.9 733.1 L584.6 734.0 L586.3 733.7 L588.0 734.0 L589.7 734.1 L591.4 734.0 L593.1 734.1 L594.8 733.1 L596.5 732.8 L598.2 732.8 L599.9 732.1 L601.6 731.6 L603.3 731.8 L605.0 731.6 L606.7 731.5 L608.4 731.5 L610.1 730.9 L611.8 731.4 L613.5 731.1 L615.2 730.5 L616.9 730.4 L618.6 730.6 L620.3 730.5 L622.0 730.1 L623.7 729.7 L625.4 729.7 L627.1 729.3 L628.8 729.4 L630.5 729.4 L632.2 728.7 L633.9 728.8 L635.6 728.7 L637.3 728.0 L639.0 728.6 L640.7 728.7 L642.4 728.3 L644.1 728.4 L645.8 728.8 L647.5 728.6 L649.2 728.6 L650.9 729.0 L652.6 729.0 L654.3 728.9 L656.0 729.2 L657.7 729.5 L659.4 729.9 L661.1 730.6 L662.8 730.8 L664.5 731.0 L666.2 730.6 L667.9 730.4 L669.6 729.6 L671.3 729.7 L673.0 729.8 L674.7 729.5 L676.4 728.7 L678.1 728.7 L679.8 728.8 L681.5 728.5 L683.2 728.5 L684.9 728.1 L686.6 728.3 L688.3 728.3 L690.0 727.8 L691.7 727.9 L693.4 728.4 L695.1 728.2 L696.8 728.3 L698.5 728.1 L700.2 728.3 L701.9 728.3 L703.6 728.4 L705.3 727.7 L707.0 728.2 L708.7 727.9 L710.4 728.2 L712.1 727.9 L713.8 728.2 L715.5 728.5 L717.2 728.2 L718.9 728.0 L720.6 728.2 L722.3 728.1 L724.0 728.5 L725.7 728.0 L727.4 728.1 L729.1 728.3 L730.8 727.9 L732.5 728.3 L734.2 728.9 L735.9 728.9 L737.6 729.1 L739.3 729.6 L741.0 730.0 L742.7 730.0 L744.4 730.3 L746.1 730.4 L747.8 730.3 L749.5 730.2 L751.2 730.0 L752.9 729.8 L754.6 729.6 L756.3 729.9 L758.0 730.0 L759.7 729.8 L761.4 729.7 L763.1 729.7 L764.8 729.2 L766.5 729.6 L768.2 729.3 L769.9 729.3 L771.6 729.3 L773.3 729.2 L775.0 729.1 L776.7 729.1 L778.4 729.0 L780.1 729.3 L781.8 729.2 L783.5 729.3 L785.2 728.9 L786.9 729.1 L788.6 729.5 L790.3 729.0 L792.0 729.3 L793.7 729.2 L795.4 729.1 L797.1 729.6 L798.8 729.1 L800.5 729.5 L802.2 729.0 L803.9 728.9 L805.6 729.5 L807.3 729.2 L809.0 728.9 L810.7 728.6 L812.4 729.4 L814.1 729.7 L815.8 729.2 L817.5 729.3 L819.2 729.9 L820.9 729.7 L822.6 729.2 L824.3 729.4 L826.0 729.4 L827.7 729.6 L829.4 729.6 L831.1 729.8 L832.8 729.7 L834.5 729.5 L836.2 729.7 L837.9 729.7 L839.6 729.7 L841.3 729.5 L843.0 729.7 L844.7 729.7 L846.4 729.8 L848.1 729.2 L849.8 729.8 L851.5 729.1 L853.2 729.7 L854.9 729.6 L856.6 729.5 L858.3 729.9 L860.0 729.6 L861.7 729.5 L863.4 729.9 L865.1 730.0 L866.8 729.9 L868.5 729.8 L870.2 730.0 L871.9 730.1 L873.6 730.4 L875.3 730.2 L877.0 730.4 L878.7 730.7 L880.4 730.7 L882.1 730.7 L883.8 731.2 L885.5 731.4 L887.2 731.2 L888.9 731.0 L890.6 730.6 L892.3 730.4 L894.0 730.1 L895.7 730.2 L897.4 729.9 L899.1 729.3 L900.8 729.9 L902.5 729.5 L904.2 730.0 L905.9 730.0 L907.6 730.2 L909.3 729.7 L911.0 729.9 L912.7 730.4 L914.4 729.8 L916.1 729.9 L917.8 730.3 L919.5 730.4 L921.2 730.8 L922.9 730.7 L924.6 730.7 L926.3 731.1 L928.0 730.8 L929.7 730.9 L931.4 731.2 L933.1 731.1 L934.8 731.1 L936.5 731.1 L938.2 730.6 L939.9 730.7 L941.6 730.2 L943.3 729.8 L945.0 729.2 L946.7 729.4 L948.4 729.4 L950.1 729.5 L951.8 729.5 L953.5 729.7 L955.2 729.8 L956.9 729.4 L958.6 729.3 L960.3 729.5 L962.0 729.7 L963.7 729.2 L965.4 729.3 L967.1 729.5 L968.8 729.0 L970.5 729.1 L972.2 729.6 L973.9 729.2 L975.6 728.5 L977.3 727.8 L979.0 728.0 L980.7 727.6 L982.4 727.7 L984.1 727.9 L985.8 727.8 L987.5 727.4 L989.2 727.2 L990.9 727.3 L992.6 727.5 L994.3 727.5 L996.0 727.3 L997.7 727.3 L999.4 727.6 L1001.1 727.6 L1002.8 727.4 L1004.5 727.9 L1006.2 727.7 L1007.9 727.3 L1009.6 727.6 L1011.3 728.0 L1013.0 727.7 L1014.7 728.0 L1016.4 727.5 L1018.1 727.8 L1019.8 728.3 L1021.5 728.2 L1023.2 728.3 L1024.9 728.0 L1026.6 728.4 L1028.3 728.7 L1030.0 728.7 L1031.7 729.1 L1033.4 729.3 L1035.1 729.8 L1036.8 729.7 L1038.5 729.8 L1040.2 729.8 L1041.9 730.5 L1043.6 731.4 L1045.3 730.9 L1047.0 730.9 L1048.7 731.0 L1050.4 731.3 L1052.1 731.5 L1053.8 731.3 L1055.5 731.5 L1057.2 730.9 L1058.9 730.9 L1060.6 731.5 L1062.3 731.1 L1064.0 731.4 L1065.7 731.1 L1067.4 731.0 L1069.1 731.1 L1070.8 730.9 L1072.5 731.6 L1074.2 731.3 L1075.9 731.1 L1077.6 731.2 L1079.3 731.2 L1081.0 730.9 L1082.7 731.6 L1084.4 731.3 L1086.1 731.6 L1087.8 731.2 L1089.5 731.3 L1091.2 731.1 L1092.9 730.9 L1094.6 731.6 L1096.3 731.5 L1098.0 731.1 L1099.7 731.6 L1101.4 731.5 L1103.1 731.1 L1104.8 731.3 L1106.5 732.0 L1108.2 732.2 L1109.9 733.1 L1111.6 732.8 L1113.3 732.9 L1115.0 733.2 L1116.7 732.8 L1118.4 732.9 L1120.1 733.3 L1121.8 733.0 L1123.5 733.2 L1125.2 732.8 L1126.9 732.7 L1128.6 732.9 L1130.3 732.8 L1132.0 733.4 L1133.7 732.8 L1135.4 733.0 L1137.1 732.7 L1138.8 733.0 L1140.5 732.9 L1142.2 732.9 L1143.9 732.7 L1145.6 732.7 L1147.3 733.3 L1149.0 732.9 L1150.7 732.8 L1152.4 732.8 L1154.1 732.8 L1155.8 732.8 L1157.5 732.6 L1159.2 733.1 L1160.9 732.9 L1162.6 732.7 L1164.3 733.2 L1166.0 732.7 L1167.7 732.8 L1169.4 732.6 L1171.1 731.5 L1172.8 731.7 L1174.5 732.0 L1176.2 732.0 L1177.9 731.5 L1179.6 731.6 L1181.3 731.9 L1183.0 731.7 L1184.7 732.1 L1186.4 731.5 L1188.1 732.1 L1189.8 732.2 L1191.5 732.4 L1193.2 732.9 L1194.9 732.2 L1196.6 732.3 L1198.3 731.6 L1200.0 732.1 L1201.7 731.8 L1203.4 731.6 L1205.1 731.6 L1206.8 731.8 L1208.5 731.5 L1210.2 732.0 L1211.9 731.5 L1213.6 731.8 L1215.3 731.8 L1217.0 731.6 L1218.7 732.0 L1220.4 731.7 L1222.1 731.9 L1223.8 731.8 L1225.5 731.6 L1227.2 731.7 L1228.9 731.4 L1230.6 731.5 L1232.3 732.0 L1234.0 731.6 L1235.7 731.9 L1237.4 731.4 L1239.1 731.8 L1240.8 731.6 L1242.5 731.8 L1244.2 731.6 L1245.9 731.6 L1247.6 732.7 L1249.3 732.8 L1251.0 732.7 L1252.7 733.2 L1254.4 732.8 L1256.1 732.9 L1257.8 733.3 L1259.5 733.2 L1261.2 733.3 L1262.9 733.3 L1264.6 732.7 L1266.3 732.8 L1268.0 732.6 L1269.7 733.1 L1271.4 733.1 L1273.1 732.9 L1274.8 732.9 L1276.5 733.1 L1278.2 733.2 L1279.9 732.8 L1281.6 733.3 L1283.3 732.9 L1285.0 733.1 L1286.7 732.8 L1288.0 732.7" fill="none" stroke="#BFB7DF" stroke-width="3.3" stroke-linejoin="round"/>
<path d="M203.5 80 L203.5 131.5" fill="none" stroke="#BFB7DF" stroke-width="3.2"/>
<path d="M205.1 218 L205.1 492" fill="none" stroke="#BFB7DF" stroke-width="5.2"/>
<path d="M206.6 491 L206.6 567" fill="none" stroke="#BFB7DF" stroke-width="3.3"/>
<path d="M208.95 566 L208.95 623" fill="none" stroke="#BFB7DF" stroke-width="7.9"/>
<path d="M208.5 622 L208.5 642" fill="none" stroke="#BFB7DF" stroke-width="2.5"/>
<path d="M203.0 223.8 L207.5 216.0 L208.8 208.8 L209.3 209.7 L209.9 209.3 L210.5 209.2 L211.1 207.8 L211.7 208.6 L212.3 209.8 L212.9 210.7 L213.5 211.8 L214.1 212.8 L214.7 212.9 L215.3 214.1 L215.9 215.3 L216.5 215.3 L217.1 217.0 L217.7 216.7 L218.3 216.1 L218.9 214.7 L219.5 214.2 L220.1 213.7 L220.7 212.1 L221.3 210.4 L221.9 210.3 L222.5 209.0 L223.1 207.2 L223.7 205.7 L224.3 205.8 L224.9 204.6 L225.5 203.1 L226.1 202.4 L226.7 202.3 L227.3 203.2 L227.9 202.9 L228.5 203.8 L229.1 203.8 L229.7 203.4 L230.3 204.2 L230.9 204.2 L231.5 204.5 L232.1 204.2 L232.7 203.5 L233.3 203.0 L233.9 203.4 L234.5 202.7 L235.1 202.8 L235.7 202.3 L236.3 202.1 L236.9 202.3 L237.5 202.3 L238.1 202.3 L238.7 202.1 L239.3 202.7 L239.9 202.7 L240.5 202.9 L241.1 203.3 L241.7 202.6 L242.3 202.9 L242.9 202.2 L243.5 202.5 L244.1 202.3 L244.7 201.8 L245.3 202.0 L245.9 202.5 L246.5 202.4 L247.1 202.6 L247.7 202.6 L248.3 202.6 L248.9 202.8 L249.5 202.6 L250.1 202.2 L250.7 202.0 L251.3 201.7 L251.9 202.1 L252.5 202.2 L253.1 202.1 L253.7 202.2 L254.3 202.5 L254.9 202.5 L255.5 202.9 L256.1 202.7 L256.7 202.8 L257.3 203.2 L257.9 202.4 L258.5 202.0 L259.1 201.3 L259.7 200.9 L260.3 200.2 L260.9 199.7 L261.5 198.8 L262.1 198.4 L262.7 198.0 L263.3 197.7 L263.9 197.6 L264.5 197.4 L265.1 196.9 L265.7 196.8 L266.3 196.6 L266.9 196.3 L267.6 196.0 L268.2 196.1 L268.8 195.9 L269.4 196.1 L270.0 195.9 L270.6 195.7 L271.7 195.6 L272.8 195.5 L273.9 194.9 L275.0 194.2 L276.1 193.6 L277.2 194.1 L278.3 195.3 L279.4 195.9 L280.5 195.6 L281.6 194.8 L282.7 194.1 L283.8 195.0 L284.9 195.9 L286.0 196.1 L287.1 195.9 L288.2 195.6 L289.3 195.4 L290.4 194.6 L291.5 194.5 L292.6 193.9 L293.7 194.7 L294.8 195.6 L295.9 195.7 L297.0 195.5 L298.1 195.5 L299.2 195.4 L300.3 195.4 L301.4 195.7 L302.5 195.8 L303.6 195.4 L304.7 195.3 L305.8 195.4 L306.9 195.4 L308.0 195.4 L309.1 195.0 L310.2 195.2 L311.3 195.1 L312.4 195.1 L313.5 194.9 L314.6 194.9 L315.7 195.1 L316.8 194.9 L317.9 194.9 L319.0 195.0 L320.1 194.9 L321.2 195.1 L322.3 194.9 L323.4 194.8 L324.5 195.0 L325.6 195.1 L326.7 195.1 L327.8 195.1 L328.9 195.2 L330.0 195.2 L331.1 195.0 L332.2 195.0 L333.3 194.8 L334.4 194.9 L335.5 195.0 L336.6 194.8 L337.7 195.1 L338.8 194.9 L339.9 195.0 L341.0 195.2 L342.1 194.8 L343.2 194.8 L344.3 195.0 L345.4 194.9 L346.5 195.0 L347.6 194.7 L348.7 195.0 L349.8 195.0 L350.9 194.9 L352.0 194.7 L353.1 194.6 L354.2 194.8 L355.3 194.7 L356.4 194.6 L357.5 194.5 L358.6 194.5 L359.7 194.6 L360.8 194.6 L361.9 194.6 L363.0 194.3 L364.1 194.5 L365.2 194.6 L366.3 194.8 L367.4 194.8 L368.5 194.8 L369.6 194.9 L370.7 195.1 L371.8 195.2 L372.9 195.6 L374.0 195.6 L375.1 195.7 L376.2 195.9 L377.3 196.0 L378.4 195.9 L379.5 196.1 L380.0 195.8 L446.0 196.0 L450.0 195.0 L800.0 195.0 L801.0 194.6 L1063.0 194.6 L1064.0 193.0 L1288.0 193.0" fill="none" stroke="#00ADAD" stroke-width="3.3" stroke-linejoin="round"/>
<path d="M206.5 177.3 L209.5 177.0 L211.0 174.0 L211.4 165.0 L211.4 147.5 L212.0 147.6 L212.6 147.2 L213.2 146.4 L213.8 147.4 L214.4 149.4 L215.0 150.0 L215.6 154.4 L216.2 158.1 L216.8 159.8 L217.4 162.0 L218.0 162.1 L218.6 163.8 L219.2 165.9 L219.8 167.0 L220.4 168.5 L221.0 171.7 L221.6 173.7 L222.2 175.3 L222.8 175.5 L223.4 176.1 L224.0 176.5 L224.6 176.7 L225.2 176.9 L225.8 177.3 L226.4 178.5 L227.0 178.4 L227.6 178.3 L228.2 179.4 L228.8 179.1 L229.4 179.3 L230.0 180.0 L230.6 179.8 L231.2 180.0 L231.8 180.0 L232.4 179.8 L233.0 180.1 L233.6 179.7 L234.2 180.0 L234.8 180.1 L235.4 179.9 L236.0 180.4 L236.6 180.5 L237.2 181.1 L237.8 181.7 L238.4 181.8 L239.0 181.9 L239.6 181.6 L240.2 180.9 L240.8 181.2 L241.4 180.9 L242.0 181.0 L242.6 182.0 L243.2 182.2 L243.8 182.5 L244.4 183.5 L245.0 183.8 L245.6 184.7 L246.2 185.0 L246.8 186.2 L247.4 186.5 L248.0 186.8 L248.6 186.9 L249.2 186.8 L249.8 187.2 L250.4 187.1 L251.0 187.2 L251.6 187.5 L252.2 187.4 L252.8 187.7 L253.4 187.6 L254.0 187.8 L254.6 187.7 L255.2 188.0 L255.8 188.0 L256.4 187.7 L257.0 188.1 L257.6 187.9 L258.2 188.2 L258.8 188.2 L259.4 188.3 L260.0 188.0 L260.6 188.1 L261.2 188.3 L261.8 188.5 L262.4 188.4 L263.0 188.1 L263.6 188.4 L264.2 188.2 L264.8 188.5 L265.4 188.6 L266.0 188.3 L266.6 188.8 L267.2 188.7 L267.8 188.5 L268.4 188.5 L269.0 188.7 L269.6 188.9 L270.2 188.8 L271.3 188.5 L272.4 188.4 L273.5 188.4 L274.6 188.7 L275.7 188.4 L276.8 188.5 L277.9 188.4 L279.0 188.5 L280.1 188.4 L281.2 188.2 L282.3 188.5 L283.4 188.3 L284.5 188.4 L285.6 188.4 L286.7 188.4 L287.8 187.9 L288.9 188.0 L290.0 187.9 L291.1 188.0 L292.2 188.2 L293.3 188.1 L294.4 187.7 L295.5 187.8 L296.6 188.0 L297.7 187.9 L298.8 187.7 L299.9 187.7 L301.0 187.6 L302.1 187.8 L303.2 187.6 L304.3 187.8 L305.4 187.6 L306.5 187.3 L307.6 187.4 L308.7 187.4 L309.8 187.8 L310.9 187.7 L312.0 187.5 L313.1 187.6 L314.2 187.7 L315.3 187.8 L316.4 187.9 L317.5 187.9 L318.6 187.9 L319.7 187.8 L320.8 188.0 L321.9 187.9 L323.0 187.8 L324.1 188.0 L325.2 188.2 L326.3 187.8 L327.4 187.8 L328.5 188.1 L329.6 187.9 L330.7 187.9 L331.8 188.0 L332.9 188.0 L334.0 188.3 L335.1 188.4 L336.2 188.8 L337.3 189.0 L338.4 188.7 L339.5 189.1 L340.6 189.4 L341.7 189.6 L342.8 189.8 L343.9 189.9 L345.0 190.1 L346.1 189.9 L347.2 189.9 L348.3 190.1 L349.4 190.2 L350.5 190.2 L351.6 190.1 L352.7 189.9 L353.8 190.1 L354.9 190.1 L356.0 190.0 L357.1 190.1 L358.2 189.9 L359.3 190.0 L360.4 190.0 L361.5 189.8 L362.6 189.9 L363.7 189.9 L364.8 190.2 L365.9 190.0 L367.0 189.9 L368.1 189.9 L369.2 189.9 L370.3 189.9 L371.4 189.8 L372.5 189.8 L373.6 190.2 L374.7 190.0 L375.8 190.5 L376.9 191.4 L377.5 191.7 L407.5 190.8 L412.0 194.0 L460.0 194.5 L800.0 194.5 L801.0 193.5 L830.0 193.5 L831.0 195.0 L869.0 196.0 L918.0 196.0 L919.0 197.0 L945.0 197.0 L946.0 195.6 L1062.0 195.6 L1064.0 194.5 L1288.0 194.5" fill="none" stroke="#66CEC8" stroke-width="3.3" stroke-linejoin="round"/>
<path d="M203.8 131 L203.8 150" fill="none" stroke="#66CEC8" stroke-width="3.7"/>
<path d="M205.65 149 L205.65 178.5" fill="none" stroke="#66CEC8" stroke-width="5.3"/>
<path d="M211.5 176 L211.5 148 L213.6 147.2 L215.4 156.7 L218 167.3 L221 173 L225 178" fill="none" stroke="#66CEC8" stroke-width="4.3" stroke-linejoin="round"/>
<path d="M209.5 184.0 L210.1 182.0 L210.7 180.5 L211.3 179.7 L211.9 178.4 L212.5 177.9 L213.1 184.8 L213.7 192.7 L214.3 194.4 L214.9 197.8 L215.5 199.6 L216.1 201.2 L216.7 202.6 L217.3 204.1 L217.9 205.6 L218.5 203.5 L219.1 202.6 L219.7 200.7 L220.3 200.2 L220.9 198.7 L221.5 198.7 L222.1 198.8 L222.7 197.5 L223.3 197.0 L223.9 196.4 L224.5 196.6 L225.1 196.7 L225.7 197.3 L226.3 196.8 L226.9 197.0 L227.5 196.9 L228.1 197.3 L228.7 197.6 L229.3 197.4 L229.9 197.0 L230.5 197.6 L231.1 197.8 L231.7 197.5 L232.3 197.1 L232.9 197.4 L233.5 196.8 L234.1 195.8 L234.7 195.0 L235.3 194.6 L235.9 194.7 L236.5 194.7 L237.1 194.3 L237.7 194.3 L238.3 193.6 L238.9 193.4 L239.5 193.5 L240.1 193.2 L240.7 192.8 L241.3 192.8 L241.9 192.3 L242.5 191.9 L243.1 191.9 L243.7 191.4 L244.3 191.6 L244.9 191.2 L245.5 190.7 L246.1 190.2 L246.7 189.4 L247.3 188.9 L247.9 188.1 L248.5 188.0 L249.1 187.8 L249.7 188.5 L250.3 188.4 L250.9 189.2 L251.5 189.5 L252.1 189.3 L252.7 189.2 L253.3 189.2 L253.9 189.2 L254.5 189.5 L255.1 189.2 L255.7 189.6 L256.3 189.4 L256.9 189.4 L257.5 189.4 L258.1 189.4 L258.7 189.5 L259.3 189.5 L259.9 189.3 L260.5 189.5 L261.1 189.3 L261.7 189.5 L262.3 189.5 L262.9 189.5 L263.5 189.3 L264.1 189.5 L264.7 189.6 L265.3 189.4 L265.9 189.3 L266.5 189.4 L267.1 189.6 L267.7 189.4 L268.3 189.8 L268.9 190.4 L269.5 191.0 L270.1 191.4 L271.2 191.2 L272.3 191.5 L273.4 191.1 L274.5 191.4 L275.6 191.1 L276.7 191.0 L277.8 191.1 L278.9 191.0 L280.0 191.3 L281.1 190.5 L282.2 189.5 L283.3 189.7 L284.4 189.5 L285.5 189.5 L286.6 189.6 L287.7 189.9 L288.8 190.1 L289.9 189.8 L291.0 190.4 L292.1 191.4 L293.2 191.8 L294.3 192.8 L295.4 193.0 L296.5 193.1 L297.6 192.9 L298.7 193.1 L299.8 193.0 L300.9 192.9 L302.0 193.2 L303.1 192.8 L304.2 193.1 L305.3 192.8 L306.4 193.1 L307.5 193.0 L308.6 193.2 L309.7 192.8 L310.8 192.7 L311.9 192.1 L313.0 192.1 L314.1 192.1 L315.2 192.0 L316.3 191.8 L317.4 191.8 L318.5 191.8 L319.6 191.9 L320.7 191.8 L321.8 191.8 L322.9 192.3 L324.0 193.1 L325.1 193.7 L326.2 194.0 L327.3 193.6 L328.4 193.8 L329.5 193.6 L330.6 193.9 L331.7 193.9 L332.8 193.6 L333.9 193.9 L335.0 193.9 L336.1 193.7 L337.2 193.7 L338.3 193.7 L339.4 193.9 L340.5 193.6 L341.6 193.8 L342.7 193.8 L343.8 193.7 L344.9 193.8 L346.0 194.9 L347.1 194.9 L348.2 195.2 L349.3 194.9 L350.4 195.1 L351.5 195.2 L352.6 194.9 L353.7 195.2 L354.8 195.2 L355.9 194.9 L357.0 194.8 L358.1 194.8 L359.2 195.2 L360.3 194.8 L361.4 195.2 L362.5 194.8 L363.6 195.4 L364.7 195.5 L365.8 195.6 L366.9 195.7 L368.0 195.4 L369.1 195.5 L370.2 195.7 L371.3 195.5 L372.4 195.5 L373.5 195.5 L374.6 195.1 L375.7 195.1 L376.8 195.3 L377.9 195.2 L379.0 194.8 L380.0 195.0 L800.0 195.0 L801.0 196.5 L975.0 196.5 L1063.0 196.5 L1064.0 194.5 L1288.0 194.5" fill="none" stroke="#FF7A6A" stroke-width="3.3" stroke-linejoin="round"/>
<path d="M206.0 180.0 L208.8 183.8 L209.3 182.4 L209.9 182.0 L210.5 180.5 L211.1 179.6 L211.7 180.7 L212.3 178.6 L212.9 181.7 L213.5 183.3 L214.1 184.8 L214.7 184.0 L215.3 184.3 L215.9 183.7 L216.5 184.4 L217.1 183.3 L217.7 184.3 L218.3 184.4 L218.9 184.3 L219.5 185.1 L220.1 185.7 L220.7 186.8 L221.3 186.5 L221.9 186.9 L222.5 188.3 L223.1 188.7 L223.7 189.0 L224.3 188.7 L224.9 188.8 L225.5 189.1 L226.1 189.1 L226.7 189.3 L227.3 190.0 L227.9 189.0 L228.5 188.0 L229.1 186.6 L229.7 185.0 L230.3 185.3 L230.9 185.4 L231.5 185.4 L232.1 185.6 L232.7 185.8 L233.3 186.2 L233.9 186.3 L234.5 186.3 L235.1 186.1 L235.7 185.9 L236.3 185.7 L236.9 186.0 L237.5 185.3 L238.1 185.1 L238.7 184.9 L239.3 185.1 L239.9 186.2 L240.5 185.9 L241.1 186.7 L241.7 187.3 L242.3 187.2 L242.9 187.7 L243.5 187.8 L244.1 187.9 L244.7 188.1 L245.3 188.2 L245.9 188.9 L246.5 188.6 L247.1 188.1 L247.7 187.0 L248.3 186.8 L248.9 185.9 L249.5 185.5 L250.1 185.0 L250.7 184.8 L251.3 185.2 L251.9 184.6 L252.5 184.9 L253.1 184.9 L253.7 184.7 L254.3 184.7 L254.9 184.9 L255.5 184.4 L256.1 184.6 L256.7 184.6 L257.3 184.3 L257.9 184.4 L258.5 184.0 L259.1 183.9 L259.7 183.8 L260.3 183.6 L260.9 183.3 L261.5 183.2 L262.1 183.0 L262.7 182.7 L263.3 182.7 L263.9 182.4 L264.5 182.8 L265.1 182.7 L265.7 182.9 L266.3 182.9 L266.9 182.9 L267.6 182.9 L268.2 183.2 L268.8 183.9 L269.4 184.0 L270.0 184.3 L270.6 184.6 L271.7 185.3 L272.8 185.5 L273.9 185.3 L275.0 185.6 L276.1 185.3 L277.2 185.3 L278.3 185.3 L279.4 185.2 L280.5 185.0 L281.6 184.2 L282.7 183.9 L283.8 183.7 L284.9 183.2 L286.0 182.3 L287.1 181.6 L288.2 181.2 L289.3 181.8 L290.4 182.5 L291.5 183.3 L292.6 183.8 L293.7 183.8 L294.8 183.7 L295.9 184.0 L297.0 184.3 L298.1 184.3 L299.2 184.2 L300.3 184.3 L301.4 184.4 L302.5 184.0 L303.6 183.3 L304.7 183.2 L305.8 182.6 L306.9 182.5 L308.0 182.4 L309.1 182.4 L310.2 182.4 L311.3 182.4 L312.4 182.3 L313.5 183.1 L314.6 184.1 L315.7 184.2 L316.8 184.3 L317.9 184.6 L319.0 184.4 L320.1 184.5 L321.2 184.5 L322.3 184.8 L323.4 184.5 L324.5 184.8 L325.6 184.9 L326.7 184.7 L327.8 184.8 L328.9 185.0 L330.0 185.0 L331.1 184.9 L332.2 184.8 L333.3 184.9 L334.4 184.8 L335.5 184.9 L336.6 184.6 L337.7 184.5 L338.8 184.6 L339.9 184.5 L341.0 185.3 L342.1 186.4 L343.2 186.9 L344.3 187.1 L345.4 186.8 L346.5 187.1 L347.6 187.0 L348.7 186.9 L349.8 187.0 L350.9 186.9 L352.0 186.7 L353.1 187.0 L354.2 186.9 L355.3 187.0 L356.4 186.9 L357.5 187.1 L358.6 187.1 L359.7 186.7 L360.8 187.0 L361.9 186.9 L363.0 186.9 L364.1 187.1 L365.2 186.9 L366.3 187.0 L367.4 187.1 L368.5 187.0 L369.6 187.0 L370.7 187.0 L371.8 187.1 L372.9 187.1 L374.0 187.1 L375.1 187.0 L376.2 188.6 L377.3 188.8 L378.4 188.4 L379.5 188.1 L380.6 187.7 L381.7 187.1 L382.5 186.9 L408.8 187.0 L410.0 188.2 L448.8 188.2 L451.2 190.0 L452.5 188.2 L471.2 188.2 L472.5 190.0 L506.2 190.0 L507.5 191.8 L800.0 191.8 L801.0 193.2 L1063.0 193.2 L1064.0 194.5 L1288.0 194.5" fill="none" stroke="#FDBB70" stroke-width="3.3" stroke-linejoin="round"/>
<path d="M205.65 177 L205.65 199.5" fill="none" stroke="#FDBB70" stroke-width="5.3"/>
<path d="M203.5 199 L203.5 218.5" fill="none" stroke="#FDBB70" stroke-width="3.2"/>
<path d="M205.9 215 L205.9 198 M207.5 188.5 L207.5 180" fill="none" stroke="#FF7A6A" stroke-width="1.7"/>
</g>
<g fill="#222222" font-size="46.5" stroke="#fff" stroke-width="0.5">
<text transform="translate(185,62) scale(1,1.065)" text-anchor="end">1500</text>
<text transform="translate(185,480.6) scale(1,1.065)" text-anchor="end">1000</text>
<text transform="translate(185,900.6) scale(1,1.065)" text-anchor="end">500</text>
<text transform="translate(203,947.7) scale(1,1.065)" text-anchor="middle">0</text>
<text transform="translate(475.5,947.7) scale(1,1.065)" text-anchor="middle">500</text>
<text transform="translate(745,947.7) scale(1,1.065)" text-anchor="middle">1000</text>
<text transform="translate(1016.5,947.7) scale(1,1.065)" text-anchor="middle">1500</text>
<text transform="translate(1287.5,947.7) scale(1,1.065)" text-anchor="middle">2000</text>
</g>
<g fill="#222222" font-size="52" font-weight="bold">
<text transform="translate(747,1014.3) scale(1,1.01)" text-anchor="middle">Number of Grown Trees</text>
<text transform="translate(58.1,461.5) rotate(-90) scale(1,1.01)" text-anchor="middle" font-size="52.25">Mean Squared Error</text>
</g>
<g>
<rect x="855.5" y="221" width="400" height="472.3" fill="#fff" stroke="#222222" stroke-width="5"/>
<line x1="855.5" y1="286.8" x2="1255.5" y2="286.8" stroke="#222222" stroke-width="5"/>
<text transform="translate(1055.2,272.6) scale(1,1.005)" text-anchor="middle" font-size="43.85" font-weight="bold" fill="#000">Number of Leaves</text>
<line x1="964" y1="319.9" x2="1065.5" y2="319.9" stroke="#6AB0D5" stroke-width="7"/>
<text transform="translate(1072,338.1) scale(1,1.035)" font-size="44" fill="#000">5</text>
<line x1="964" y1="377.1" x2="1065.5" y2="377.1" stroke="#46AD6C" stroke-width="3.5"/>
<text transform="translate(1072,394.4) scale(1,1.035)" font-size="44" fill="#000">10</text>
<line x1="964" y1="434.5" x2="1065.5" y2="434.5" stroke="#BFB7DF" stroke-width="3.5"/>
<text transform="translate(1072,451.4) scale(1,1.035)" font-size="44" fill="#000">20</text>
<line x1="964" y1="491.8" x2="1065.5" y2="491.8" stroke="#00ADAD" stroke-width="3.5"/>
<text transform="translate(1072,509.3) scale(1,1.035)" font-size="44" fill="#000">50</text>
<line x1="964" y1="547.5" x2="1065.5" y2="547.5" stroke="#66CEC8" stroke-width="3.5"/>
<text transform="translate(1072,566.2) scale(1,1.035)" font-size="44" fill="#000">100</text>
<line x1="964" y1="604.9" x2="1065.5" y2="604.9" stroke="#FF7A6A" stroke-width="3.5"/>
<text transform="translate(1072,623.6) scale(1,1.035)" font-size="44" fill="#000">200</text>
<line x1="964" y1="662.1" x2="1065.5" y2="662.1" stroke="#FDBB70" stroke-width="3.5"/>
<text transform="translate(1072,679.4) scale(1,1.035)" font-size="44" fill="#000">500</text>
</g>
</svg></body></html>
